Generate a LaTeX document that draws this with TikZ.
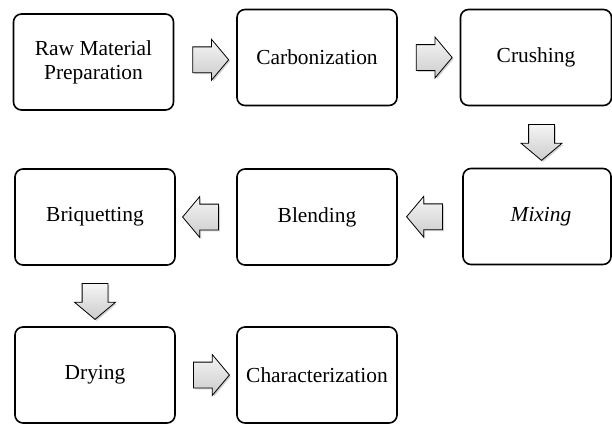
\documentclass[tikz,border=0pt]{standalone}
\usepackage{fontspec}
\setmainfont{Liberation Serif}
\usetikzlibrary{shapes.arrows,shadows,calc}

\tikzset{
	stage/.style={draw, line width=1.6bp, rounded corners=8bp,
		minimum width=160bp, minimum height=96bp, inner sep=0pt,
		align=center, font=\fontsize{21.5}{24}\selectfont},
	blockarrow/.style={single arrow, draw, line width=0.8bp,
		single arrow head extend=7.5bp, single arrow tip angle=100,
		inner xsep=0pt, inner ysep=12.5bp, minimum height=36bp,
		top color=gray!8, bottom color=gray!40,
		drop shadow={shadow xshift=1.5bp, shadow yshift=-1.5bp, opacity=0.35}},
}

\begin{document}
\begin{tikzpicture}[x=1bp,y=-1bp]
	\useasboundingbox (0,0) rectangle (612,425);

	% first row
	\node[stage] (raw)   at (93.5,62)  {Raw Material\\Preparation};
	\node[stage] (carb)  at (317,57.5) {Carbonization};
	\node[stage, minimum width=151bp] (crush) at (536,57.5) {Crushing};

	% second row (right to left)
	\node[stage, minimum width=148bp] (mix) at (537,216.5) {\hspace*{8bp}\textit{Mixing}};
	\node[stage] (blend) at (317,217) {Blending};
	\node[stage] (briq)  at (95,217)  {Briquetting};

	% third row
	\node[stage] (dry)   at (95,375)  {Drying};
	\node[stage] (char)  at (317,375) {Characterization};

	% block arrows between the stages
	\node[blockarrow] (r1) at ($(raw.east)!0.5!(carb.west)$) {};
	\node[blockarrow] (r2) at ($(carb.east)!0.5!(crush.west)$) {};
	\node[blockarrow, rotate=-90] (d1) at ($(crush.south)!0.5!(mix.north)+(5,0)$) {};
	\node[blockarrow, rotate=180] (l1) at ($(mix.west)!0.5!(blend.east)$) {};
	\node[blockarrow, rotate=180] (l2) at ($(blend.west)!0.5!(briq.east)$) {};
	\node[blockarrow, rotate=-90] (d2) at ($(briq.south)!0.5!(dry.north)$) {};
	\node[blockarrow] (r3) at ($(dry.east)!0.5!(char.west)$) {};

%	\draw[->] (char.east) -- ++(40,0);
\end{tikzpicture}
\end{document}
